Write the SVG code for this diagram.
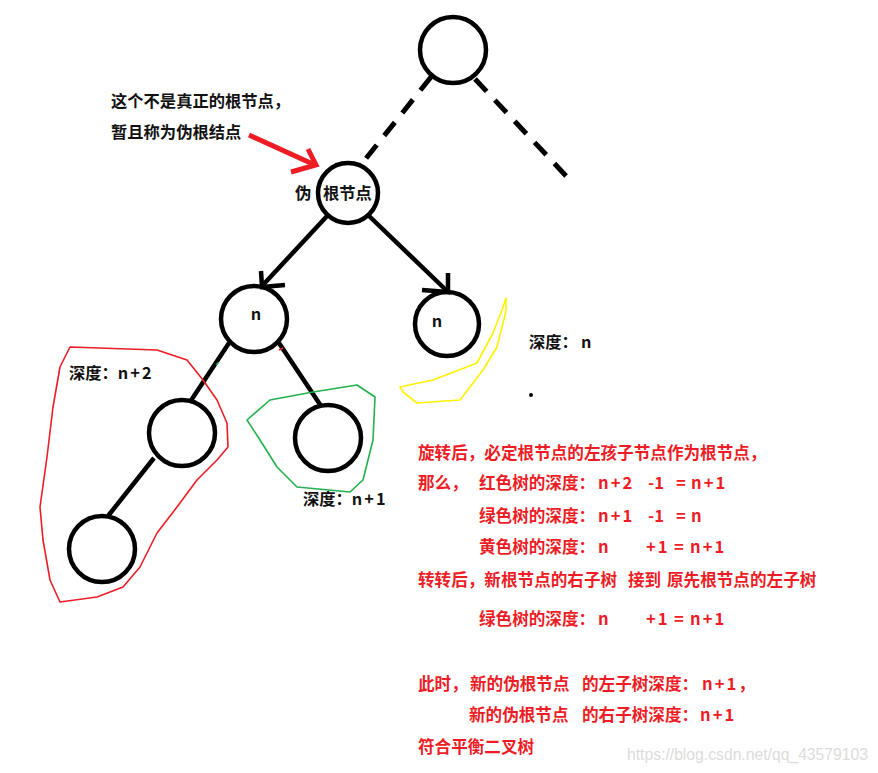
<svg xmlns="http://www.w3.org/2000/svg" width="878" height="773" viewBox="0 0 878 773">
<style>
.node{fill:none;stroke:#000;stroke-width:4.5}
.edge{stroke:#000;stroke-width:4.5;fill:none;stroke-linecap:butt}
.dash{stroke:#000;stroke-width:5;fill:none;stroke-dasharray:17 12}
.bk{font-family:"Noto Sans CJK SC","Microsoft YaHei",sans-serif;font-weight:bold;font-size:16.3px;fill:#111}
.rd{font-family:"Noto Sans CJK SC","Microsoft YaHei",sans-serif;font-weight:bold;font-size:16.6px;fill:#ee1c25}
.lt{letter-spacing:2px}
.wm{font-family:"Liberation Sans",Arial,sans-serif;font-size:16px;fill:#dcdcdc}
</style>
<rect width="878" height="773" fill="#fff"/>

<g id="connectors">
  <line class="dash" x1="431" y1="77" x2="360" y2="166"/>
  <line class="dash" x1="475" y1="79" x2="568" y2="178"/>
  <line class="edge" x1="328" y1="215" x2="262" y2="286"/>
  <polyline class="edge" points="261,271 262,287 285,285"/>
  <line class="edge" x1="368" y1="215" x2="446" y2="290"/>
  <polyline class="edge" points="448,273 448,292 422,290"/>
  <line class="edge" x1="229" y1="343" x2="190" y2="402"/>
  <line class="edge" x1="279" y1="343" x2="321" y2="406"/>
  <line class="edge" x1="154" y1="458" x2="108" y2="516"/>
  <line x1="216" y1="365" x2="219" y2="362" stroke="#22b14c" stroke-width="1.5"/>
  <line x1="279" y1="350" x2="283" y2="348" stroke="#ee1c25" stroke-width="1.5"/>
  <g id="red-arrow" stroke="#ee1c25" stroke-width="5" fill="none">
    <line x1="249" y1="135" x2="315" y2="165"/>
    <polyline points="308,149 316,165 291,172"/>
  </g>
</g>

<g id="top-root"><circle class="node" cx="453" cy="50" r="33"/></g>
<g id="pseudo-root"><circle class="node" cx="348" cy="193" r="30"/>
  <text class="bk" x="295" y="199">伪</text>
  <text class="bk" x="323" y="199">根节点</text>
</g>
<g id="left-n"><circle class="node" cx="254" cy="319" r="33"/>
  <text class="bk" x="256" y="320" text-anchor="middle">n</text>
</g>
<g id="right-n"><circle class="node" cx="447" cy="324" r="32"/>
  <text class="bk" x="437" y="327" text-anchor="middle">n</text>
</g>
<g id="ll"><circle class="node" cx="182" cy="433" r="33"/></g>
<g id="lr"><circle class="node" cx="328" cy="438" r="33"/></g>
<g id="lll"><circle class="node" cx="102" cy="549" r="33"/></g>

<g id="red-tree">
  <path d="M70,347 L157,350 L187,360 L203,380 L217,400 L227,423 L228,447 L217,460 L197,480 L177,507 L157,533 L140,567 L123,587 L97,597 L60,602 L50,580 L43,540 L40,507 L47,457 L53,407 L60,367 Z" fill="none" stroke="#ee1c25" stroke-width="1.6" stroke-linejoin="round"/>
  <text class="bk" x="69" y="379">深度：<tspan class="lt">n+2</tspan></text>
</g>
<g id="green-tree">
  <path d="M247,420 L270,400 L313,392 L357,385 L375,397 L373,440 L363,480 L350,492 L297,487 L277,467 L260,440 Z" fill="none" stroke="#22b14c" stroke-width="1.6" stroke-linejoin="round"/>
  <text class="bk" x="303" y="505">深度：<tspan class="lt">n+1</tspan></text>
</g>
<g id="yellow-tree">
  <path d="M400,387 L433,380 L477,363 L493,333 L502,310 L506,298 L506,311 L497,347 L483,370 L460,400 L417,403 L403,392 Z" fill="none" stroke="#fff200" stroke-width="1.6" stroke-linejoin="round"/>
  <text class="bk" x="529" y="348">深度：<tspan x="581">n</tspan></text>
  <circle cx="531" cy="395" r="2" fill="#000"/>
</g>

<g id="note">
  <text class="bk" x="111" y="107">这个不是真正的根节点，</text>
  <text class="bk" x="111" y="138">暂且称为伪根结点</text>
</g>

<g id="explanation">
  <text class="rd" x="418" y="459">旋转后，必定根节点的左孩子节点作为根节点，</text>
  <text class="rd" y="489"><tspan x="418">那么，</tspan><tspan x="479">红色树的深度：</tspan><tspan class="lt" x="598">n+2</tspan><tspan x="648">-1</tspan><tspan x="676">=</tspan><tspan class="lt" x="691">n+1</tspan></text>
  <text class="rd" y="522"><tspan x="479">绿色树的深度：</tspan><tspan class="lt" x="598">n+1</tspan><tspan x="648">-1</tspan><tspan x="676">=</tspan><tspan x="691">n</tspan></text>
  <text class="rd" y="553"><tspan x="479">黄色树的深度：</tspan><tspan x="598">n</tspan><tspan class="lt" x="646">+1</tspan><tspan x="674">=</tspan><tspan class="lt" x="690">n+1</tspan></text>
  <text class="rd" y="586"><tspan x="418">转转后，新根节点的右子树</tspan><tspan x="628">接到</tspan><tspan x="667">原先根节点的左子树</tspan></text>
  <text class="rd" y="625"><tspan x="479">绿色树的深度：</tspan><tspan x="598">n</tspan><tspan class="lt" x="646">+1</tspan><tspan x="674">=</tspan><tspan class="lt" x="690">n+1</tspan></text>
  <text class="rd" y="690"><tspan x="418">此时，</tspan><tspan x="470">新的伪根节点</tspan><tspan x="582">的左子树深度：</tspan><tspan class="lt" x="702">n+1</tspan><tspan>，</tspan></text>
  <text class="rd" y="721"><tspan x="469">新的伪根节点</tspan><tspan x="582">的右子树深度：</tspan><tspan class="lt" x="700">n+1</tspan></text>
  <text class="rd" x="418" y="753">符合平衡二叉树</text>
</g>
<text class="wm" x="627" y="760" textLength="241" lengthAdjust="spacingAndGlyphs">https://blog.csdn.net/qq_43579103</text>
</svg>
